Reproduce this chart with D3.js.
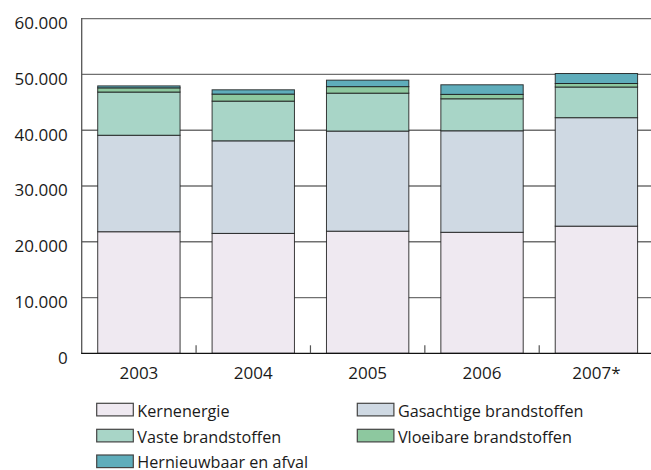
<!DOCTYPE html>
<html>
<head>
<meta charset="utf-8">
<script src="https://cdn.jsdelivr.net/npm/d3@7"></script>
<style>
  html, body { margin: 0; padding: 0; background: #fff; }
  svg { display: block; font-family: "Open Sans", "DejaVu Sans", sans-serif; }
</style>
</head>
<body>
<svg id="chart" width="651" height="470"></svg>
<script>
const years = ["2003", "2004", "2005", "2006", "2007*"];
const seriesNames = ["Kernenergie", "Gasachtige brandstoffen", "Vaste brandstoffen", "Vloeibare brandstoffen", "Hernieuwbaar en afval"];
const kernenergie   = [21800, 21500, 21900, 21700, 22800];
const gasachtige    = [17300, 16600, 17950, 18200, 19450];
const vaste         = [7750, 7120, 6800, 5740, 5500];
const vloeibare     = [750, 1260, 1170, 790, 630];
const hernieuwbaar  = [350, 770, 1160, 1720, 1790];
const yTicks = [0, 10000, 20000, 30000, 40000, 50000, 60000];
const colors = ["#efe9f1", "#cfd9e3", "#a8d5c7", "#8dc89f", "#5fadbb"];

const seriesValues = [kernenergie, gasachtige, vaste, vloeibare, hernieuwbaar];
const rows = years.map((y, i) => {
  const r = { year: y };
  seriesNames.forEach((s, j) => r[s] = seriesValues[j][i]);
  return r;
});

const svg = d3.select("#chart");
const mLeft = 81.7, mRight = 653.6, mTop = 18.7, mBottom = 353.3;

const x = d3.scaleBand().domain(years).range([mLeft, mRight]).paddingInner(0.28).paddingOuter(0.14);
const y = d3.scaleLinear().domain([0, 60000]).range([mBottom, mTop]);

const loc = d3.formatLocale({ decimal: ",", thousands: ".", grouping: [3], currency: ["", ""] });
const fmt = loc.format(",");

// gridlines
svg.append("g").selectAll("line").data(yTicks.filter(d => d > 0)).join("line")
  .attr("x1", mLeft).attr("x2", 651)
  .attr("y1", d => y(d)).attr("y2", d => y(d))
  .attr("stroke", "#707070").attr("stroke-width", 1.3);

// y labels
svg.append("g").selectAll("text").data(yTicks).join("text")
  .attr("x", 67.7).attr("y", d => y(d) + 4.5).attr("dy", "0.35em")
  .attr("text-anchor", "end").attr("font-size", 17).attr("fill", "#1a1a1a")
  .text(d => fmt(d));

// stacked bars
const stack = d3.stack().keys(seriesNames)(rows);
svg.append("g").selectAll("g").data(stack).join("g")
  .attr("fill", (d, i) => colors[i])
  .selectAll("rect").data(d => d).join("rect")
  .attr("x", d => x(d.data.year))
  .attr("width", x.bandwidth())
  .attr("y", d => y(d[1]))
  .attr("height", d => y(d[0]) - y(d[1]))
  .attr("stroke", "#1a1a1a").attr("stroke-opacity", 0.85).attr("stroke-width", 1);

// left axis line
svg.append("line").attr("x1", mLeft).attr("x2", mLeft).attr("y1", mTop - 0.6).attr("y2", mBottom)
  .attr("stroke", "#555").attr("stroke-width", 1.3);
// bottom axis
svg.append("line").attr("x1", mLeft - 0.6).attr("x2", 651).attr("y1", mBottom).attr("y2", mBottom)
  .attr("stroke", "#111").attr("stroke-width", 1.3);

// category separator ticks
const sep = years.slice(1).map(yy => x(yy) - x.step() * x.paddingInner() / 2);
svg.append("g").selectAll("line").data(sep).join("line")
  .attr("x1", d => d).attr("x2", d => d)
  .attr("y1", mBottom - 8).attr("y2", mBottom)
  .attr("stroke", "#555").attr("stroke-width", 1.2);

// x labels
svg.append("g").selectAll("text").data(years).join("text")
  .attr("x", d => x(d) + x.bandwidth() / 2).attr("y", 378.8)
  .attr("text-anchor", "middle").attr("font-size", 17).attr("fill", "#1a1a1a")
  .text(d => d);

// legend
const legendPos = [
  [96.7, 403.3], [357.3, 403.3],
  [96.7, 429.3], [357.3, 429.3],
  [96.7, 455.0]
];
const lg = svg.append("g").selectAll("g").data(seriesNames).join("g")
  .attr("transform", (d, i) => `translate(${legendPos[i][0]},${legendPos[i][1]})`);
lg.append("rect").attr("width", 36.6).attr("height", 12.6)
  .attr("fill", (d, i) => colors[i]).attr("stroke", "#444").attr("stroke-width", 1.2);
lg.append("text").attr("x", 40.6).attr("y", 13.4)
  .attr("font-size", 16.2).attr("fill", "#1a1a1a").text(d => d);
</script>
</body>
</html>
